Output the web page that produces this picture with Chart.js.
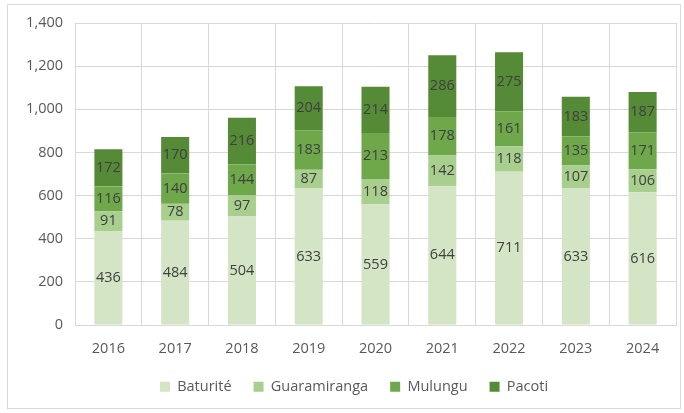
<!DOCTYPE html>
<html>
<head>
<meta charset="utf-8">
<script src="https://cdn.jsdelivr.net/npm/chart.js@4"></script>
<style>
  body { margin: 0; background: #fff; }
  #wrap { position: relative; width: 684px; height: 413px; }
  #frame { position: absolute; left: 7px; top: 4px; width: 672px; height: 403px; border: 1px solid #d9d9d9; }
  canvas { position: absolute; left: 0; top: 0; }
</style>
</head>
<body>
<div id="wrap">
  <div id="frame"></div>
  <canvas id="Chart" width="684" height="413"></canvas>
</div>
<script>
// data
const years = ["2016", "2017", "2018", "2019", "2020", "2021", "2022", "2023", "2024"];
const baturite     = [436, 484, 504, 633, 559, 644, 711, 633, 616];
const guaramiranga = [91, 78, 97, 87, 118, 142, 118, 107, 106];
const mulungu      = [116, 140, 144, 183, 213, 178, 161, 135, 171];
const pacoti       = [172, 170, 216, 204, 214, 286, 275, 183, 187];
const yTicks = [0, 200, 400, 600, 800, 1000, 1200, 1400];

const fontName = "'Open Sans', sans-serif";
const fontSize = 14.5;

// draws the value in the middle of each stacked segment
const segmentLabels = {
  id: "segmentLabels",
  beforeInit(chart) {
    // legend sits a bit right of centre in the original
    const legend = chart.legend;
    const origDraw = legend.draw;
    legend.draw = function (area) {
      chart.ctx.save();
      chart.ctx.translate(16, 0);
      origDraw.call(this, area);
      chart.ctx.restore();
    };
  },
  afterDatasetsDraw(chart) {
    const ctx = chart.ctx;
    ctx.save();
    ctx.font = fontSize + "px " + fontName;
    ctx.fillStyle = "#404040";
    ctx.textAlign = "center";
    ctx.textBaseline = "middle";
    chart.data.datasets.forEach((ds, i) => {
      const meta = chart.getDatasetMeta(i);
      meta.data.forEach((bar, j) => {
        const mid = (bar.y + bar.base) / 2;
        ctx.fillText(ds.data[j], bar.x, mid);
      });
    });
    ctx.restore();
  }
};

const ctx = document.getElementById("Chart").getContext("2d");
const myChart = new Chart(ctx, {
  type: "bar",
  data: {
    labels: years,
    datasets: [
      { label: "Baturité", data: baturite, backgroundColor: "#d3e5c4" },
      { label: "Guaramiranga", data: guaramiranga, backgroundColor: "#a9cf8f" },
      { label: "Mulungu", data: mulungu, backgroundColor: "#6ea84a" },
      { label: "Pacoti", data: pacoti, backgroundColor: "#558a36" },
    ],
  },
  options: {
    responsive: false,
    animation: false,
    datasets: { bar: { barPercentage: 0.42, categoryPercentage: 1 } },
    layout: { padding: { left: 0, top: 23, right: 8, bottom: 9 } },
    plugins: {
      tooltip: { enabled: false },
      legend: {
        position: "bottom",
        labels: {
          boxWidth: 10,
          boxHeight: 10,
          padding: 22,
          color: "#595959",
          font: { family: fontName, size: fontSize },
        },
      },
    },
    scales: {
      x: {
        stacked: true,
        afterFit: (axis) => { axis.height -= 15; },
        grid: { color: "#d9d9d9", drawTicks: false, offset: true },
        border: { color: "#d9d9d9" },
        ticks: { color: "#595959", padding: 15, font: { family: fontName, size: fontSize } },
      },
      y: {
        stacked: true,
        min: 0,
        max: 1400,
        afterFit: (axis) => { axis.width = 75; },
        afterBuildTicks: (axis) => { axis.ticks = yTicks.map((v) => ({ value: v })); },
        grid: { color: "#d9d9d9", drawTicks: false },
        border: { display: false },
        ticks: {
          color: "#595959",
          padding: 12,
          font: { family: fontName, size: fontSize },
          callback: (v) => v.toLocaleString("en-US"),
        },
      },
    },
  },
  plugins: [segmentLabels],
});
</script>
</body>
</html>
